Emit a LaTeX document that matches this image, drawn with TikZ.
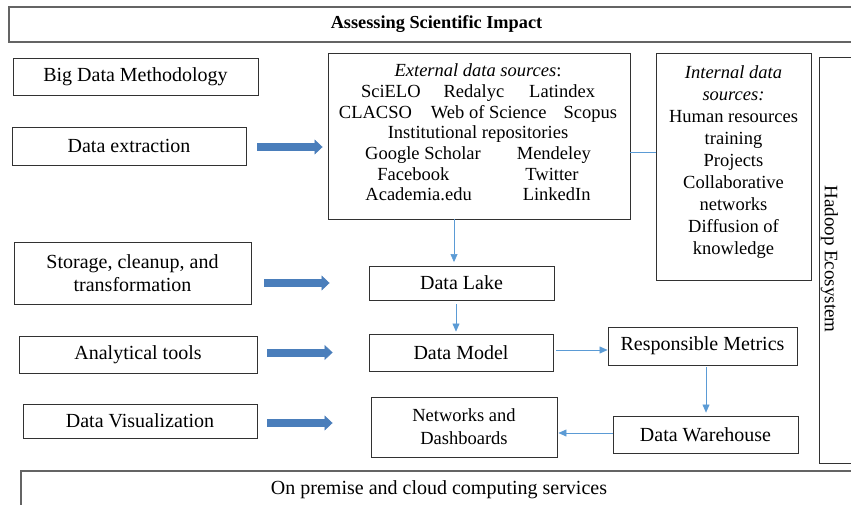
\documentclass[tikz,border=0pt]{standalone}
\usepackage{fontspec}
\setmainfont{Liberation Serif}
\usetikzlibrary{arrows.meta}
\definecolor{fatblue}{RGB}{74,126,187}
\definecolor{thinblue}{RGB}{91,155,213}
\definecolor{boxline}{RGB}{50,50,50}
\definecolor{frameline}{RGB}{100,100,100}
\begin{document}
\begin{tikzpicture}[x=1bp,y=-1bp,
  box/.style={draw=boxline, line width=0.9bp, inner sep=2bp, align=center,
    font=\fontsize{20bp}{23.5bp}\selectfont},
  frame/.style={draw=frameline, line width=1.3bp, inner sep=2bp, align=center,
    font=\fontsize{20bp}{22bp}\selectfont},
  small/.style={font=\fontsize{18.5bp}{23bp}\selectfont},
  txt/.style={inner sep=0pt, align=center, font=\fontsize{18.5bp}{22bp}\selectfont},
  conn/.style={draw=thinblue, line width=1bp, -{Triangle[width=7bp,length=8bp,line width=0.5bp]}},
  fat/.style={draw=fatblue, line width=8bp, -{Triangle[width=15bp,length=8bp,line width=0.5bp]}}]
\fill[white] (0,0) rectangle (851,505);
\clip (0,0) rectangle (851,505);

% frames
\node[frame, minimum width=855bp, minimum height=35bp,
  font=\fontsize{18.3bp}{20bp}\selectfont\bfseries] (title) at (436.5,24.5) {Assessing Scientific Impact};
\node[frame, minimum width=836bp, minimum height=38bp] (cloud) at (439,490) {On premise and cloud computing services};
\node[box, minimum width=60bp, minimum height=406bp] (had) at (849,260) {};
\node[txt, rotate=-90, font=\fontsize{19bp}{22bp}\selectfont] (hadtext) at (829.5,259) {Hadoop Ecosystem};

% left column
\node[box, minimum width=245bp, minimum height=37bp] (bdm) at (135.5,77) {Big Data Methodology};
\node[box, minimum width=234bp, minimum height=38bp] (dx) at (129,146) {Data extraction};
\node[box, minimum width=237bp, minimum height=62bp] (stor) at (132.5,273) {Storage, cleanup, and\\transformation};
\node[box, minimum width=238bp, minimum height=37bp] (ana) at (138,354.5) {Analytical tools};
\node[box, minimum width=234bp, minimum height=34bp] (vis) at (140,421) {Data Visualization};

% sources
\node[box, minimum width=302bp, minimum height=166bp] (ext) at (479,136) {};
\node[txt, font=\fontsize{18.5bp}{20.7bp}\selectfont] (exttext) at (478,132.5) {%
\textit{External data sources}:\\
SciELO\hspace{23bp}Redalyc\hspace{25bp}Latindex\\
CLACSO\hspace{19bp}Web of Science\hspace{17bp}Scopus\\
Institutional repositories\\
Google Scholar\hspace{36bp}Mendeley\\
Facebook\hspace{76bp}Twitter\\
Academia.edu\hspace{51bp}LinkedIn};
\node[box, minimum width=155bp, minimum height=227bp] (int) at (733.5,166.5) {};
\node[txt] (inttext) at (733.5,162) {%
\textit{Internal data}\\
\textit{sources:}\\
Human resources\\
training\\
Projects\\
Collaborative\\
networks\\
Diffusion of\\
knowledge};

% pipeline
\node[box, minimum width=185bp, minimum height=34bp] (lake) at (461.5,283) {Data Lake};
\node[box, minimum width=184bp, minimum height=37bp] (model) at (461,352.5) {Data Model};
\node[box, minimum width=189bp, minimum height=38bp] (rm) at (702.5,346) {Responsible Metrics};
\node[box, minimum width=185bp, minimum height=37bp] (dw) at (705.5,434.5) {Data Warehouse};
\node[box, small, minimum width=186bp, minimum height=60bp] (net) at (464,427) {Networks and\\Dashboards};

% thin connectors
\draw[thinblue, line width=1bp] ([yshift=-17bp]ext.east) -- ([yshift=-17bp]ext.east -| int.west);
\draw[conn, shorten >=3.5bp] ([xshift=-25bp]ext.south) -- ([xshift=-25bp]ext.south |- lake.north);
\draw[conn, shorten <=4bp, shorten >=2bp] ([xshift=-5.5bp]lake.south) -- ([xshift=-5.5bp]lake.south |- model.north);
\draw[conn, shorten <=3bp] ([yshift=2.5bp]model.east) -- ([yshift=2.5bp]model.east -| rm.west);
\draw[conn, shorten <=2bp, shorten >=3bp] ([xshift=3.5bp]rm.south) -- ([xshift=3.5bp]rm.south |- dw.north);
\draw[conn, shorten >=1bp] ([yshift=1.5bp]dw.west) -- ([yshift=1.5bp]dw.west -| net.east);

% fat arrows
\draw[fat, shorten <=11bp, shorten >=5bp] ([yshift=-1bp]dx.east) -- ([yshift=-1bp]dx.east -| ext.west);
\draw[fat, shorten <=13bp, shorten >=39bp] (stor.east |- lake.west) -- (lake.west);
\draw[fat, shorten <=10bp, shorten >=36bp] (ana.east |- model.west) -- (model.west);
\draw[fat, shorten <=10bp, shorten >=38bp] ([yshift=-2bp]vis.east) -- ([yshift=-2bp]vis.east -| net.west);
\end{tikzpicture}
\end{document}
